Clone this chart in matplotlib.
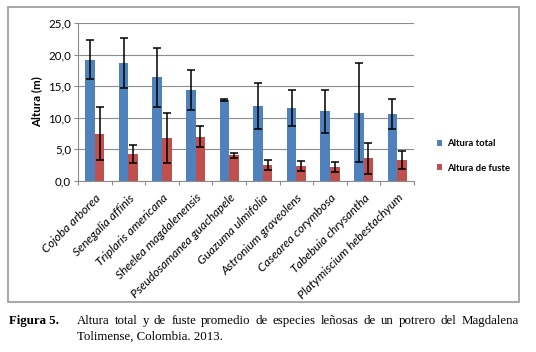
import matplotlib
matplotlib.use("Agg")
import matplotlib.pyplot as plt
from matplotlib.patches import Rectangle
import numpy as np

species = [
    "Cojoba arborea", "Senegalia affinis", "Triplaris americana",
    "Sheelea magdalenensis", "Pseudosamanea guachapele", "Guazuma ulmifolia",
    "Astronium graveolens", "Casearea corymbosa", "Tabebuia chrysantha",
    "Platymiscium hebestachyum",
]
altura_total = [19.2, 18.7, 16.4, 14.4, 12.8, 11.9, 11.5, 11.0, 10.8, 10.6]
err_total = [3.1, 3.95, 4.65, 3.15, 0.2, 3.6, 2.85, 3.45, 7.8, 2.3]
altura_fuste = [7.5, 4.3, 6.8, 7.0, 4.05, 2.6, 2.4, 2.2, 3.6, 3.3]
err_fuste = [4.15, 1.4, 4.0, 1.65, 0.45, 0.8, 0.8, 0.8, 2.45, 1.4]
y_ticks = [0, 5, 10, 15, 20, 25]

caption_label = "Figura 5."
caption_line1 = ("Altura total y de fuste promedio de especies leñosas de un "
                 "potrero del Magdalena")
caption_line2 = "Tolimense, Colombia. 2013."

blue = "#4F81BD"
red = "#C0504D"
W, H = 536, 352

fig = plt.figure(figsize=(W / 100, H / 100), dpi=100)

# outer chart frame
fig.patches.append(Rectangle((8 / W, 50 / H), 511 / W, 295 / H,
                             transform=fig.transFigure, fill=False,
                             edgecolor="#a0a0a0", linewidth=1.3))

ax = fig.add_axes([78 / W, 171 / H, 336 / W, 158 / H])

x = np.arange(len(species)) + 0.5
w = 0.2857
ekw = dict(ecolor="black", elinewidth=1.1, capsize=2.6, capthick=1.1)
ax.bar(x - w / 2, altura_total, w, color=blue, yerr=err_total,
       error_kw=ekw, label="Altura total", zorder=3)
ax.bar(x + w / 2, altura_fuste, w, color=red, yerr=err_fuste,
       error_kw=ekw, label="Altura de fuste", zorder=3)

ax.set_xlim(0, len(species))
ax.set_ylim(0, 25)
ax.set_yticks(y_ticks)
ax.set_yticklabels([f"{v:.1f}".replace(".", ",") for v in y_ticks],
                   fontsize=8.3, family="Lato")
ax.yaxis.grid(True, color="#8c8c8c", linewidth=0.8, zorder=0)

ax.set_xticks(np.arange(len(species) + 1))
ax.set_xticklabels([])
ax.set_xticks(x, minor=True)
ax.set_xticklabels(species, minor=True, rotation=45, ha="right",
                   va="top", rotation_mode="anchor", fontsize=8.7,
                   style="italic", family="Lato")
ax.tick_params(axis="x", which="minor", length=0, pad=8)
ax.tick_params(axis="x", which="major", length=3, color="#8c8c8c")
ax.tick_params(axis="y", length=3, color="#8c8c8c", pad=2)

for s in ["top", "right"]:
    ax.spines[s].set_visible(False)
for s in ["left", "bottom"]:
    ax.spines[s].set_color("#8c8c8c")

ax.set_ylabel("Altura (m)", fontsize=8.3, fontweight="bold", family="Lato",
              labelpad=4)

ax.legend(loc="center left", bbox_to_anchor=(428 / W, 1 - 156 / H),
          bbox_transform=fig.transFigure, frameon=False,
          prop={"family": "Lato", "weight": "bold", "size": 6.8},
          handlelength=0.6, handleheight=0.6, handletextpad=0.5,
          labelspacing=1.6)

# caption, first line justified between x=77 and x=519
cap_font = dict(fontsize=9.25, family="Liberation Serif", va="center")
y1, y2 = 1 - 321 / H, 1 - 337 / H
fig.text(9 / W, y1, caption_label, fontweight="bold", **cap_font)
renderer = fig.canvas.get_renderer()
words = caption_line1.split()
texts = [fig.text(0, y1, wd, **cap_font) for wd in words]
widths = [t.get_window_extent(renderer).width for t in texts]
x0, x1 = 77, 519
gap = (x1 - x0 - sum(widths)) / (len(words) - 1)
pos = x0
for t, wd in zip(texts, widths):
    t.set_x(pos / W)
    pos += wd + gap
fig.text(x0 / W, y2, caption_line2, **cap_font)

fig.savefig("out.png", dpi=100)
